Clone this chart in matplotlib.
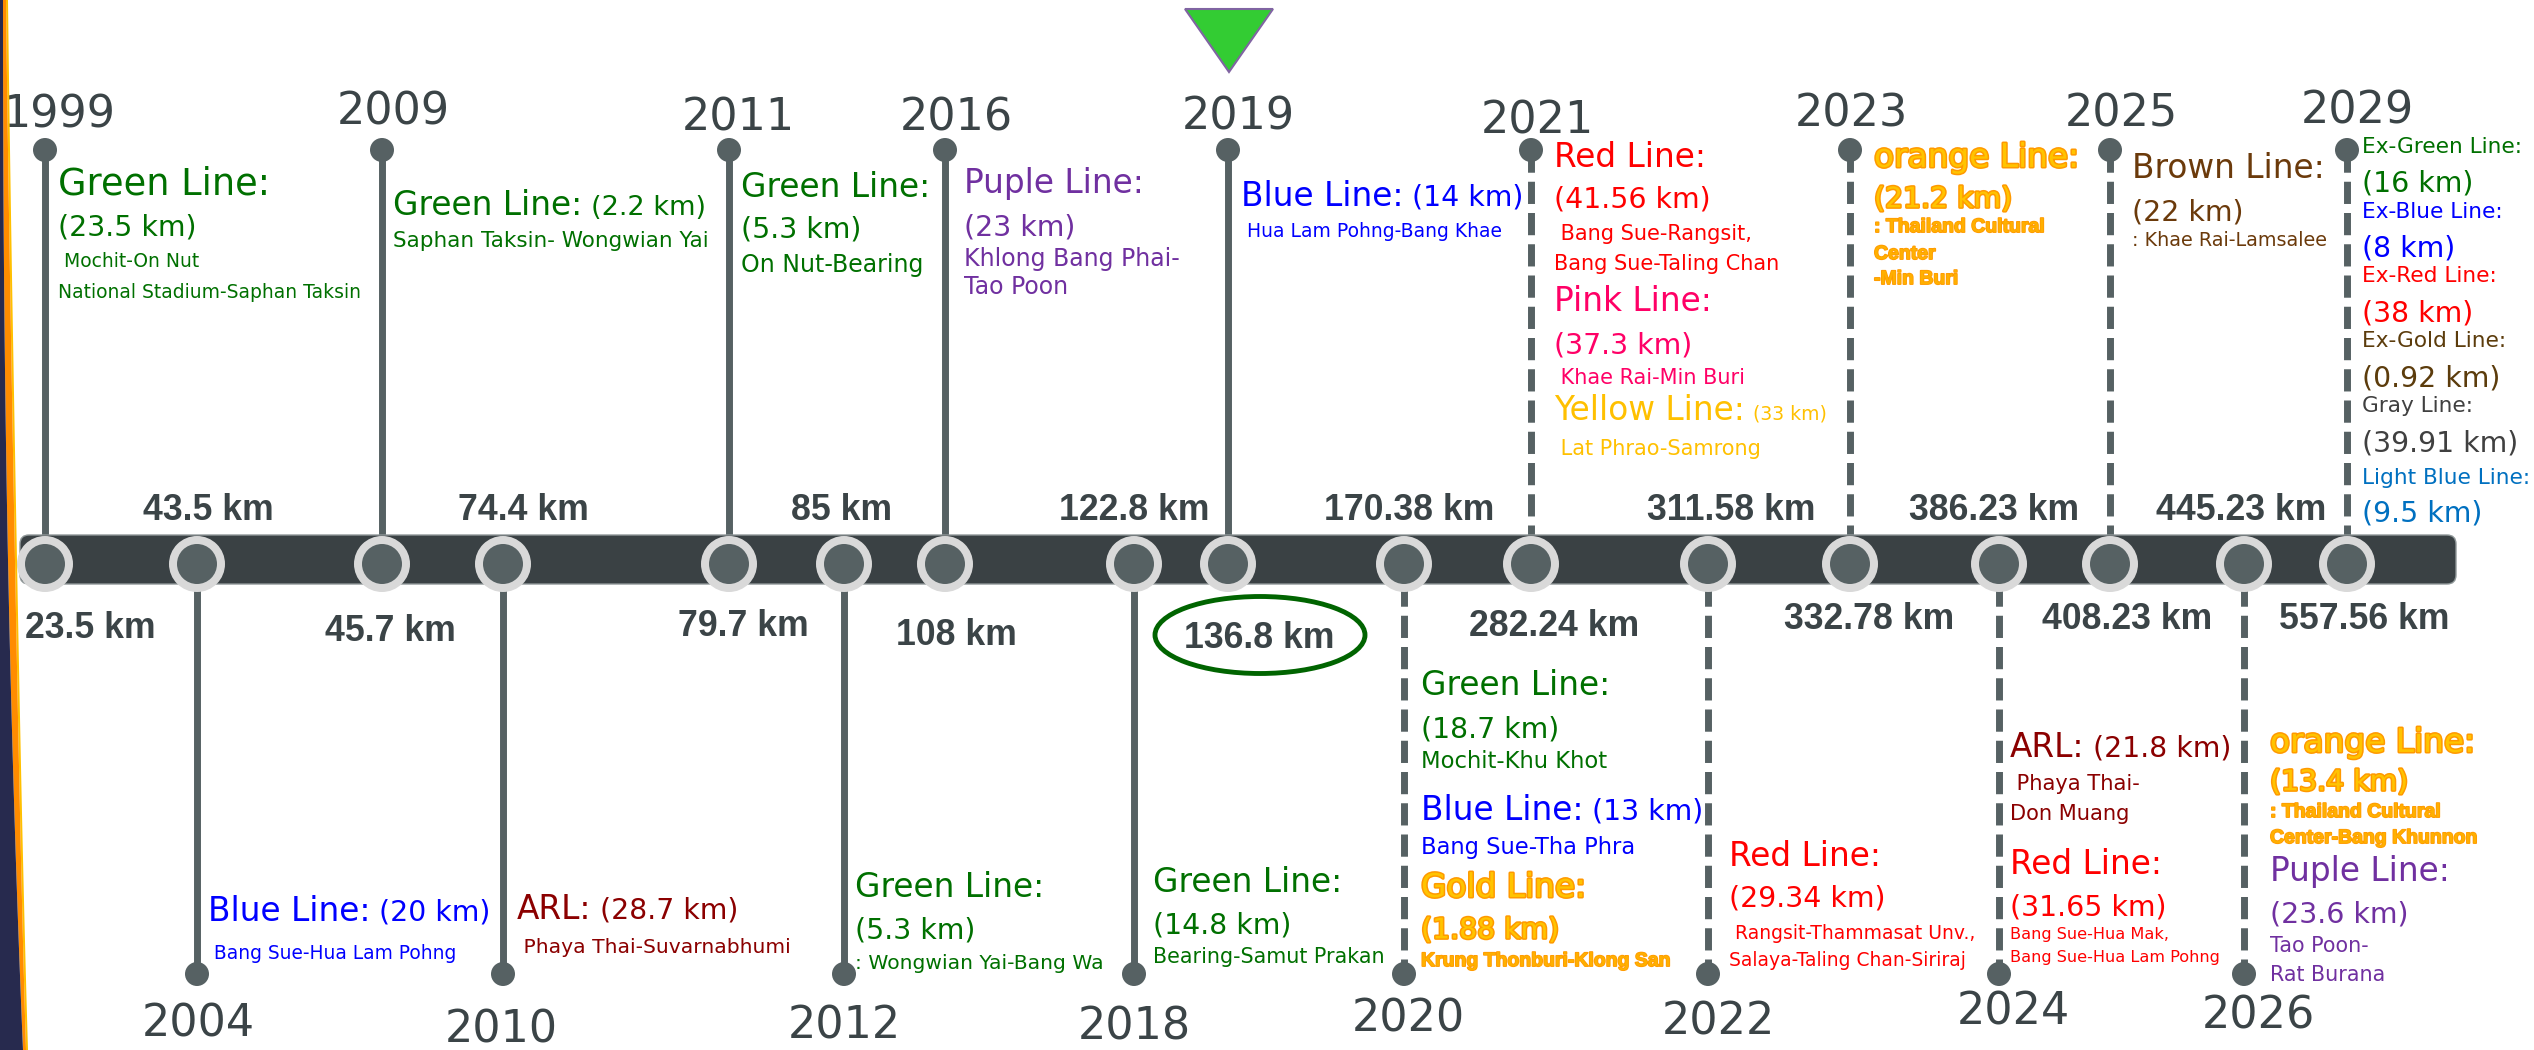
import matplotlib
matplotlib.use("Agg")
import matplotlib.pyplot as plt
from matplotlib import patches, patheffects
import numpy as np

# ── Data ──────────────────────────────────────────────────────────────────────

YEARS = [1999, 2004, 2009, 2010, 2011, 2012, 2016, 2018, 2019,
         2020, 2021, 2022, 2023, 2024, 2025, 2026, 2029]
TOTAL_KM = [23.5, 43.5, 45.7, 74.4, 79.7, 85, 108, 122.8, 136.8,
            170.38, 282.24, 311.58, 332.78, 386.23, 408.23, 445.23, 557.56]
CURRENT_YEAR = 2019

# rows: (kind, line, text[, inline text])
OPENINGS = {
    1999: [("name", "green", "Green Line:"), ("km", "green", "(23.5 km)"),
           ("route", "green", " Mochit-On Nut"),
           ("route", "green", "National Stadium-Saphan Taksin")],
    2004: [("name", "blue", "Blue Line:", "(20 km)"),
           ("route", "blue", " Bang Sue-Hua Lam Pohng")],
    2009: [("name", "green", "Green Line:", "(2.2 km)"),
           ("route", "green", "Saphan Taksin- Wongwian Yai")],
    2010: [("name", "arl", "ARL:", "(28.7 km)"),
           ("route", "arl", " Phaya Thai-Suvarnabhumi")],
    2011: [("name", "green", "Green Line:"), ("km", "green", "(5.3 km)"),
           ("route", "green", "On Nut-Bearing")],
    2012: [("name", "green", "Green Line:"), ("km", "green", "(5.3 km)"),
           ("route", "green", ": Wongwian Yai-Bang Wa")],
    2016: [("name", "purple", "Puple Line:"), ("km", "purple", "(23 km)"),
           ("route", "purple", "Khlong Bang Phai-"), ("route", "purple", "Tao Poon")],
    2018: [("name", "green", "Green Line:"), ("km", "green", "(14.8 km)"),
           ("route", "green", "Bearing-Samut Prakan")],
    2019: [("name", "blue", "Blue Line:", "(14 km)"),
           ("route", "blue", " Hua Lam Pohng-Bang Khae")],
    2020: [("name", "green", "Green Line:"), ("km", "green", "(18.7 km)"),
           ("route", "green", "Mochit-Khu Khot"),
           ("name", "blue", "Blue Line:", "(13 km)"),
           ("route", "blue", "Bang Sue-Tha Phra"),
           ("name", "gold", "Gold Line:"), ("km", "gold", "(1.88 km)"),
           ("note", "gold", "Krung Thonburi-Klong San")],
    2021: [("name", "red", "Red Line:"), ("km", "red", "(41.56 km)"),
           ("route", "red", " Bang Sue-Rangsit,"), ("route", "red", "Bang Sue-Taling Chan"),
           ("name", "pink", "Pink Line:"), ("km", "pink", "(37.3 km)"),
           ("route", "pink", " Khae Rai-Min Buri"),
           ("name", "yellow", "Yellow Line:", "(33 km)"),
           ("route", "yellow", " Lat Phrao-Samrong")],
    2022: [("name", "red", "Red Line:"), ("km", "red", "(29.34 km)"),
           ("route", "red", " Rangsit-Thammasat Unv.,"),
           ("route", "red", "Salaya-Taling Chan-Siriraj")],
    2023: [("name", "orange", "orange Line:"), ("km", "orange", "(21.2 km)"),
           ("note", "orange", ": Thailand Cultural"), ("note", "orange", "Center"),
           ("note", "orange", "-Min Buri")],
    2024: [("name", "arl", "ARL:", "(21.8 km)"),
           ("route", "arl", " Phaya Thai-"), ("route", "arl", "Don Muang"),
           ("name", "red", "Red Line:"), ("km", "red", "(31.65 km)"),
           ("tiny", "red", "Bang Sue-Hua Mak,"), ("tiny", "red", "Bang Sue-Hua Lam Pohng")],
    2025: [("name", "brown", "Brown Line:"), ("km", "brown", "(22 km)"),
           ("route", "brown", ": Khae Rai-Lamsalee")],
    2026: [("name", "orange", "orange Line:"), ("km", "orange", "(13.4 km)"),
           ("note", "orange", ": Thailand Cultural"), ("note", "orange", "Center-Bang Khunnon"),
           ("name", "purple", "Puple Line:"), ("km", "purple", "(23.6 km)"),
           ("route", "purple", "Tao Poon-"), ("route", "purple", "Rat Burana")],
    2029: [("ex", "green", "Ex-Green Line:"), ("km", "green", "(16 km)"),
           ("ex", "blue", "Ex-Blue Line:"), ("km", "blue", "(8 km)"),
           ("ex", "red", "Ex-Red Line:"), ("km", "red", "(38 km)"),
           ("ex", "exgold", "Ex-Gold Line:"), ("km", "exgold", "(0.92 km)"),
           ("ex", "gray", "Gray Line:"), ("km", "gray", "(39.91 km)"),
           ("ex", "lightblue", "Light Blue Line:"), ("km", "lightblue", "(9.5 km)")],
}

# ── Layout (canvas pixels, 2534 x 1050) ───────────────────────────────────────

W, H = 2534, 1050
STEM_X = [45, 197, 382, 503, 729, 844, 945, 1134, 1228,
          1404, 1531, 1708, 1850, 1999, 2110, 2244, 2347]
KM_DX = [45, 11, 8, 20, 14, -2, 11, 0, 31, 5, 23, 23, 19, -5, 17, -3, 17]
KM_Y = [625, 507, 628, 507, 623, 507, 632, 507, 635,
        507, 623, 507, 616, 507, 616, 507, 616]
YEAR_DX = [14, 1, 11, -2, 9, 0, 11, 0, 10, 4, 6, 10, 1, 14, 11, 14, 10]
YEAR_Y = [111, 1020, 108, 1026, 114, 1022, 114, 1023, 113,
          1015, 117, 1018, 110, 1008, 110, 1012, 107]

BLOCK_X = {1999: 58, 2004: 208, 2009: 393, 2010: 517, 2011: 741, 2012: 855,
           2016: 964, 2018: 1153, 2019: 1241, 2020: 1421, 2021: 1554, 2022: 1729,
           2023: 1874, 2024: 2010, 2025: 2132, 2026: 2270, 2029: 2362}
BLOCK_Y = {
    1999: [181, 225, 260, 291],
    2004: [909, 952],
    2009: [203, 239],
    2010: [907, 946],
    2011: [185, 227, 263],
    2012: [885, 928, 962],
    2016: [181, 225, 257, 285],
    2018: [880, 923, 955],
    2019: [194, 230],
    2020: [683, 727, 760, 808, 846, 885, 928, 959],
    2021: [155, 197, 232, 262, 299, 343, 376, 408, 447],
    2022: [854, 896, 932, 959],
    2023: [155, 197, 225, 252, 277],
    2024: [745, 782, 812, 862, 905, 933, 956],
    2025: [166, 210, 239],
    2026: [740, 780, 810, 836, 869, 912, 944, 973],
    2029: [145, 181, 210, 246, 274, 311, 339, 376, 404, 441, 476, 511],
}
NAME_PT = {1999: 26.5}
ROUTE_PT = {1999: 13.5, 2004: 13.4, 2009: 15.5, 2010: 14.6, 2011: 17.0, 2012: 14.6,
            2016: 17.0, 2018: 14.9, 2019: 13.5, 2020: 16.3, 2021: 15.0, 2022: 13.5,
            2024: 15.1, 2025: 13.8, 2026: 14.9}
INLINE_PT = {2009: 19.5, 2021: 13.6}

BAR_X0, BAR_X1, BAR_Y0, BAR_Y1 = 20, 2456, 535, 584
NODE_Y = 564
UP_KNOB_Y, DOWN_KNOB_Y = 150, 974

# ── Style ─────────────────────────────────────────────────────────────────────

BODY = "DejaVu Sans"
HEAVY = "Liberation Sans"
SLATE = "#3b4447"
STEM = "#566163"
LINE_COLORS = {"green": "#007000", "blue": "#0000ff", "purple": "#7030a0",
               "arl": "#8b0000", "red": "#ff0000", "pink": "#ff0066",
               "yellow": "#ffc000", "orange": "#ffc400", "gold": "#ffc400",
               "brown": "#6b3a0b", "exgold": "#5c3c0c", "gray": "#404040",
               "lightblue": "#0070c0"}
OUTLINED = {"orange", "gold"}
KIND_PT = {"name": 23.6, "km": 20.4, "ex": 15.6, "tiny": 11.6, "note": 14}
PX = 100 / 72

fig = plt.figure(figsize=(W / 100, H / 100), dpi=100)
ax = fig.add_axes([0, 0, 1, 1])
ax.set_xlim(0, W)
ax.set_ylim(H, 0)
ax.axis("off")


def put(x, yc, s, pt, color, weight="normal", family=BODY, effects=None, ha="left"):
    # yc is the visual middle of the capitals; convert to a baseline
    return ax.text(x, yc + 0.365 * pt * PX, s, fontsize=pt, color=color,
                   fontweight=weight, family=family, va="baseline", ha=ha,
                   path_effects=effects, zorder=6)


# ── Left decoration ───────────────────────────────────────────────────────────

yy = np.linspace(0, H, 200)
edge = 3 + 20 * (yy / H) ** 2.2
band = 3 + 4 * np.sin(np.pi * yy / H)
ax.fill_betweenx(yy, edge + band, edge + band + 2, color="#ffc000", zorder=9, lw=0)
ax.fill_betweenx(yy, edge, edge + band, color="#ff8c00", zorder=9, lw=0)
ax.fill_betweenx(yy, 0, edge, color="#272a4e", zorder=10, lw=0)

# ── Main bar ──────────────────────────────────────────────────────────────────

ax.add_patch(patches.FancyBboxPatch((BAR_X0, BAR_Y0), BAR_X1 - BAR_X0, BAR_Y1 - BAR_Y0,
                                    boxstyle="round,pad=0,rounding_size=9",
                                    fc="#3a4144", ec="#8f9798", lw=1, zorder=2))

for i, (year, km) in enumerate(zip(YEARS, TOTAL_KM)):
    x = STEM_X[i]
    up = i % 2 == 0
    style = (0, (3.2, 1.3)) if year > CURRENT_YEAR else "-"
    if up:
        ax.plot([x, x], [UP_KNOB_Y, BAR_Y0], color=STEM, lw=5, ls=style,
                solid_capstyle="butt", dash_capstyle="butt", zorder=1)
        ax.add_patch(patches.Circle((x, UP_KNOB_Y), 12, fc=STEM, ec="none", zorder=3))
    else:
        ax.plot([x, x], [BAR_Y1, DOWN_KNOB_Y], color=STEM, lw=5, ls=style,
                solid_capstyle="butt", dash_capstyle="butt", zorder=1)
        ax.add_patch(patches.Circle((x, DOWN_KNOB_Y), 12, fc=STEM, ec="none", zorder=3))

    # node on the bar
    ax.add_patch(patches.Circle((x, NODE_Y), 28, fc="#d9d9d9", ec="none", zorder=3))
    ax.add_patch(patches.Circle((x, NODE_Y), 20, fc=STEM, ec="none", zorder=4))

    # year label
    put(x + YEAR_DX[i], YEAR_Y[i], str(year), 32, SLATE, ha="center")

    # cumulative length
    kx = x + KM_DX[i]
    put(kx, KM_Y[i], f"{km:g} km", 25.7, SLATE, weight="bold", family=HEAVY, ha="center")
    if year == CURRENT_YEAR:
        ax.add_patch(patches.Ellipse((kx + 1, KM_Y[i]), 210, 77, fill=False,
                                     ec="#006400", lw=3.5, zorder=5))
        ax.add_patch(patches.Polygon([(x - 43, 9), (x + 45, 9), (x + 1, 72)],
                                     closed=True, fc="#33cc33", ec="#8064a2",
                                     lw=1.5, zorder=5))

    # opening descriptions
    bx = BLOCK_X[year]
    for row, yc in zip(OPENINGS[year], BLOCK_Y[year]):
        kind, line, text = row[:3]
        color = LINE_COLORS[line]
        weight, family, fx = "normal", BODY, None
        if kind == "route":
            pt = ROUTE_PT.get(year, 14)
        elif kind == "name":
            pt = NAME_PT.get(year, KIND_PT["name"])
        else:
            pt = KIND_PT[kind]
        if line in OUTLINED:
            if kind == "note":
                weight, family = "bold", HEAVY
                fx = [patheffects.withStroke(linewidth=1.2, foreground="#ff9900")]
                color = "#ffb000"
            else:
                fx = [patheffects.withStroke(linewidth=2.2, foreground="#ff9900")]
        elif kind == "note":
            weight, family = "bold", HEAVY
        t = put(bx, yc, text, pt, color, weight=weight, family=family, effects=fx)
        if len(row) > 3:
            ipt = INLINE_PT.get(year, KIND_PT["km"])
            ax.annotate(row[3], xy=(1, yc + 0.365 * pt * PX), xycoords=(t, "data"),
                        xytext=(6, 0), textcoords="offset points",
                        fontsize=ipt, color=color, family=BODY,
                        va="baseline", ha="left", path_effects=fx, zorder=6)

fig.savefig("out.png", dpi=100, facecolor="white")
